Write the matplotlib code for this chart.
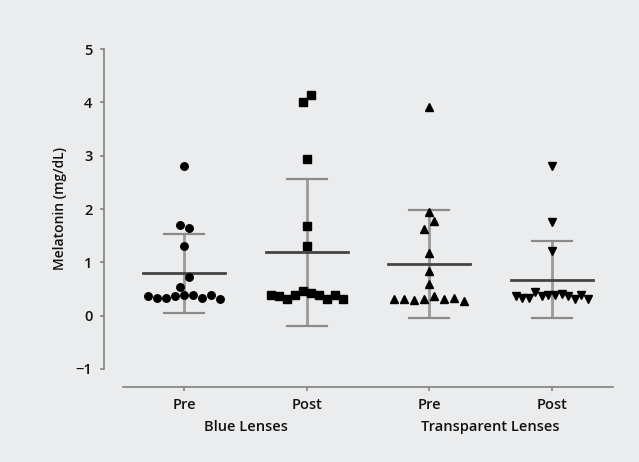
import numpy as np
import matplotlib.pyplot as plt
import matplotlib.transforms as mtransforms

# ============= Data =============
groups = ['Pre', 'Post', 'Pre', 'Post']
lens_labels = ['Blue Lenses', 'Transparent Lenses']

# values listed left to right within each visual row
blue_pre = [2.80, 1.70, 1.65, 1.30, 0.54, 0.73,
            0.36, 0.34, 0.34, 0.36, 0.39, 0.38, 0.33, 0.39, 0.32]
blue_post = [4.01, 4.14, 2.93, 1.68, 1.30,
             0.38, 0.37, 0.32, 0.38, 0.47, 0.43, 0.39, 0.32, 0.39, 0.31]
clear_pre = [3.91, 1.95, 1.63, 1.78, 1.17, 0.84, 0.60,
             0.32, 0.32, 0.30, 0.32, 0.36, 0.32, 0.33, 0.28]
clear_post = [2.80, 1.75, 1.22,
              0.36, 0.34, 0.34, 0.44, 0.36, 0.38, 0.38, 0.41, 0.36, 0.31, 0.39, 0.31]

all_data = [blue_pre, blue_post, clear_pre, clear_post]
markers = ['o', 's', '^', 'v']
marker_gap = [9, 8, 10, 10]   # spacing of side-by-side points (px)

# ============= Helpers =============
PX_PER_UNIT = 122.5   # horizontal pixels per category


def swarm_offsets(vals, gap_px, row_tol=0.2, row_width_px=72):
    '''spread points that share a row horizontally (GraphPad-like scatter)'''
    vals = np.asarray(vals)
    order = np.argsort(vals, kind='stable')
    row_id = np.zeros(len(vals), dtype=int)
    rid, start = 0, vals[order[0]]
    for i in order:
        if vals[i] - start > row_tol:
            rid += 1
            start = vals[i]
        row_id[i] = rid
    offs = np.zeros(len(vals))
    for r in np.unique(row_id):
        idx = np.where(row_id == r)[0]  # keeps reading order
        n = len(idx)
        if n == 1:
            continue
        step = min(gap_px, row_width_px / (n - 1))
        offs[idx] = (np.arange(n) - (n - 1) / 2) * step / PX_PER_UNIT
    return offs


# ============= Plot =============
bg = '#EBECEE'
plt.rcParams['font.family'] = ['Open Sans', 'DejaVu Sans']

fig = plt.figure(figsize=(6.39, 4.62), dpi=100, facecolor=bg)
ax = fig.add_axes([123 / 639, 93 / 462, 490 / 639, 320 / 462])
ax.set_facecolor(bg)

marker_sizes = {'o': 5.4, 's': 5.2, '^': 6.0, 'v': 5.4}

for k, vals in enumerate(all_data):
    vals = np.array(vals)
    m = vals.mean()
    sd = vals.std(ddof=1)
    # error bar + caps
    ax.plot([k, k], [m - sd, m + sd], color='#9a9a9a', lw=2, zorder=1, solid_capstyle='butt')
    for yy in (m - sd, m + sd):
        ax.plot([k - 0.163, k + 0.163], [yy, yy], color='#8a8a8a', lw=1.6, zorder=1)
    # mean line
    ax.plot([k - 0.335, k + 0.335], [m, m], color='#444444', lw=2, zorder=2)
    # points
    x = k + swarm_offsets(vals, marker_gap[k])
    ax.plot(x, vals, marker=markers[k], ls='none', color='black',
            ms=marker_sizes[markers[k]], zorder=3)

ax.set_xlim(-0.5, 3.5)
ax.set_ylim(-1, 5)
ax.set_yticks(range(-1, 6))
ax.set_yticklabels(['\u22121', '0', '1', '2', '3', '4', '5'])
ax.set_xticks(range(4))
ax.set_xticklabels(groups)

for s in ('top', 'right'):
    ax.spines[s].set_visible(False)
for s in ('left', 'bottom'):
    ax.spines[s].set_color('#808080')
    ax.spines[s].set_linewidth(1.2)
ax.spines['left'].set_position(('outward', 14))
ax.spines['bottom'].set_position(('outward', 13))

ax.tick_params(axis='both', colors='#808080', length=3, width=1.1,
               labelcolor='#111111', labelsize=10.5, pad=5)
for lab in ax.get_xticklabels() + ax.get_yticklabels():
    lab.set_fontweight('semibold')

ax.set_ylabel('Melatonin (mg/dL)', fontsize=10, fontweight='semibold', color='#111111')
ax.yaxis.set_label_coords(-0.114, 0.5)

trans = mtransforms.blended_transform_factory(ax.transData, ax.transAxes)
for j, lab in enumerate(lens_labels):
    ax.text(2 * j + 0.5, -0.181, lab, transform=trans, ha='center', va='center',
            fontsize=10.5, fontweight='semibold', color='#111111')

plt.savefig('out.png', dpi=100, facecolor=bg)
